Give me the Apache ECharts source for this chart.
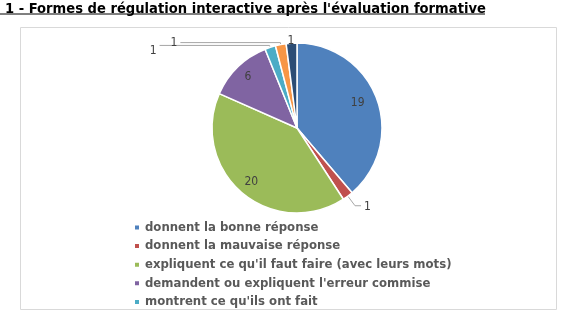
<!DOCTYPE html>
<html>
<head>
<meta charset="utf-8">
<script src="https://cdn.jsdelivr.net/npm/echarts@6/dist/echarts.min.js"></script>
<style>
  html, body { margin: 0; padding: 0; background: #fff; }
  #chart { width: 562px; height: 311px; }
</style>
</head>
<body>
<div id="chart"></div>
<script>
// categories and counts
const categories = [
  "donnent la bonne réponse",
  "donnent la mauvaise réponse",
  "expliquent ce qu'il faut faire (avec leurs mots)",
  "demandent ou expliquent l'erreur commise",
  "montrent ce qu'ils ont fait",
  "reformulent la consigne",
  "autres"
];
const counts = [19, 1, 20, 6, 1, 1, 1];
const colors = ["#4F81BD", "#C0504D", "#9BBB59", "#8064A2", "#4BACC6", "#F79646", "#2C4D75"];

const font = "'Liberation Sans Narrow', 'DejaVu Sans Condensed', sans-serif";
const cx = 297, cy = 128, R = 85;

// label style per slice: big ones inside (pushed out a bit), small ones outside with leader lines
const labelStyles = [
  { position: "inside", k: 1.42, dy: -3 },
  { position: "outside", line: [12, 6], dy: 1 },
  { position: "inside", k: 1.55 },
  { position: "inside", k: 1.55 },
  { position: "outside", line: [2, 110], dy: 5 },
  { position: "outside", line: [2, 100] },
  { position: "outside", line: [2, 0], noLine: true, dx: 6 }
];

let chart = echarts.init(document.getElementById("chart"));
chart.setOption({
  animation: false,
  title: {
    text: "1 - Formes de régulation interactive après l'évaluation formative",
    left: 0,
    top: -3,
    textStyle: { fontFamily: font, fontSize: 14.6, fontWeight: "bold", color: "#000" }
  },
  graphic: [
    { type: "rect", shape: { x: 20.5, y: 27.5, width: 536, height: 282 },
      style: { fill: "none", stroke: "#d9d9d9", lineWidth: 1 }, z: -1 },
    { type: "line", shape: { x1: 0, y1: 14, x2: 485, y2: 14 },
      style: { stroke: "#000", lineWidth: 1 } }
  ],
  legend: {
    orient: "vertical",
    left: 128,
    top: 216,
    height: 300,
    itemWidth: 6,
    itemHeight: 6,
    itemGap: 5.6,
    icon: "rect",
    data: categories,
    textStyle: { fontFamily: font, fontSize: 13, lineHeight: 13, fontWeight: "bold", color: "#595959" }
  },
  series: [{
    type: "pie",
    center: [cx, cy],
    radius: R,
    startAngle: 90,
    clockwise: true,
    avoidLabelOverlap: false,
    itemStyle: { borderColor: "#fff", borderWidth: 1.5 },
    label: { color: "#404040", fontFamily: font, fontSize: 12, formatter: "{c}" },
    labelLine: { lineStyle: { color: "#a6a6a6", width: 1 } },
    labelLayout: function (p) {
      const st = labelStyles[p.dataIndex];
      if (st.position !== "inside") return { dx: st.dx || 0, dy: st.dy || 0 };
      const lx = p.labelRect.x + p.labelRect.width / 2;
      const ly = p.labelRect.y + p.labelRect.height / 2;
      return { x: cx + (lx - cx) * st.k, y: cy + (ly - cy) * st.k + (st.dy || 0), align: "center", verticalAlign: "middle" };
    },
    data: categories.map((name, i) => {
      const st = labelStyles[i];
      const item = {
        name: name,
        value: counts[i],
        itemStyle: { color: colors[i] },
        label: { position: st.position }
      };
      if (st.line) {
        item.labelLine = { show: !st.noLine, length: st.line[0], length2: st.line[1] };
        item.label.distanceToLabelLine = 3;
      }
      return item;
    })
  }]
});
</script>
</body>
</html>
